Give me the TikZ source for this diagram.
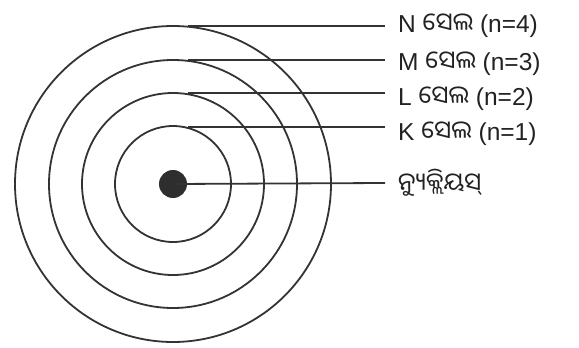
\documentclass[tikz,border=0pt]{standalone}
\usepackage{fontspec}
\setmainfont{Liberation Sans}
\newfontfamily\odia[Script=Oriya]{Noto Sans Oriya UI}
\definecolor{ink}{HTML}{333333}
\definecolor{txt}{HTML}{222222}
\begin{document}
\begin{tikzpicture}[x=1pt,y=-1pt,
  shell/.style={circle,draw=ink,line width=1.8pt,inner sep=0pt,minimum size=#1},
  lead/.style={draw=ink,line width=1.8pt},
  lab/.style={anchor=west,inner sep=0pt,text=txt,font=\fontsize{24.5}{28}\selectfont}]
\useasboundingbox (0,0) rectangle (579,348);
\fill[white] (0,0) rectangle (579,348);
\node[shell=316pt] (n) at (173,184) {};
\node[shell=248pt] (m) at (173,184) {};
\node[shell=182pt] (l) at (173,184) {};
\node[shell=116pt] (k) at (173,184) {};
\node[circle,fill=ink!90!black,inner sep=0pt,minimum size=28pt] (nuc) at (173,184) {};
\coordinate (ns) at (188,26);  \coordinate (ne) at (385,26);
\coordinate (ms) at (188,60);  \coordinate (me) at (385,60);
\coordinate (ls) at (188,93);  \coordinate (le) at (385,93);
\coordinate (ks) at (188,127); \coordinate (ke) at (385,127);
\coordinate (nue) at (385,183);
\draw[lead] (ns) -- (ne);
\draw[lead] (ms) -- (me);
\draw[lead] (ls) -- (le);
\draw[lead] (ks) -- (ke);
\draw[lead] (nuc.center) -- (nue);
\node[lab] (nl) at (398,26) {N {\odia ସେଲ} (n=4)};
\node[lab] (ml) at (398,64) {M {\odia ସେଲ} (n=3)};
\node[lab] (ll) at (398,99) {L {\odia ସେଲ} (n=2)};
\node[lab] (kl) at (398,134) {K {\odia ସେଲ} (n=1)};
\node[lab] (nul) at (398,183) {\odia ନ୍ୟୁକ୍ଲିୟସ୍};
\end{tikzpicture}
\end{document}
